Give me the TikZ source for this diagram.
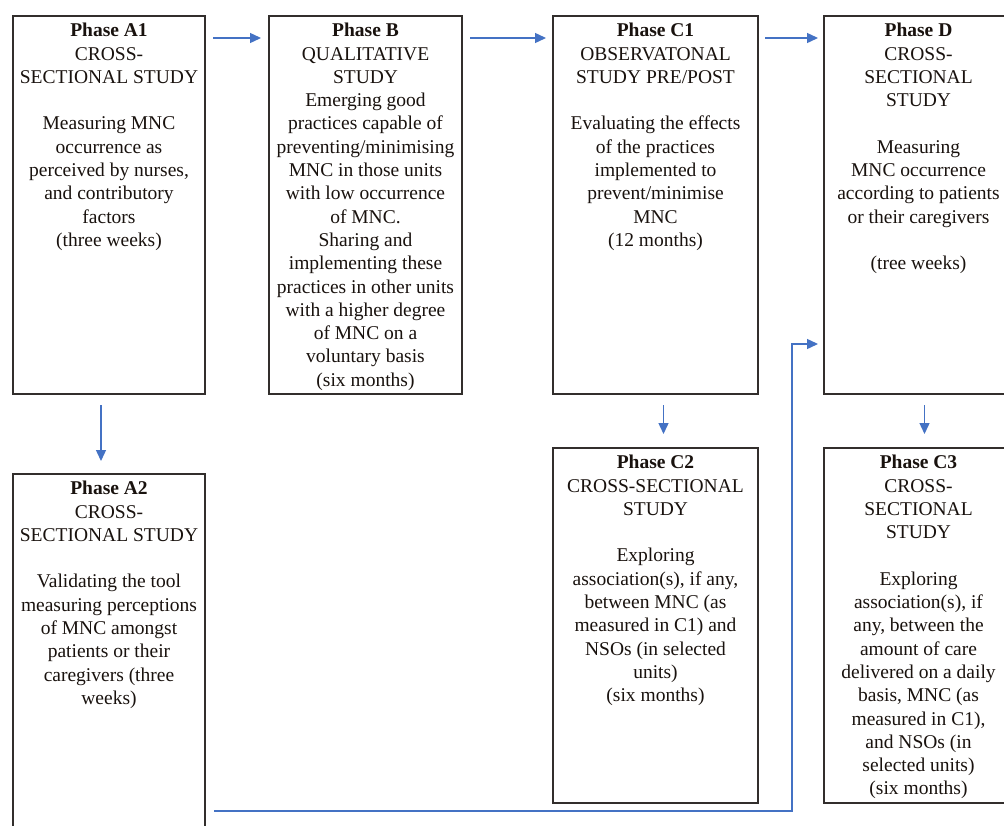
\documentclass[tikz,border=0pt]{standalone}
\usepackage{fontspec}
\setmainfont{Liberation Serif}
\usetikzlibrary{arrows.meta}
\definecolor{arrblue}{RGB}{68,114,196}
\definecolor{boxline}{RGB}{50,46,44}
\definecolor{txtcol}{RGB}{25,18,14}
\tikzset{
  phasebox/.style={draw=boxline, line width=2pt, fill=none, inner sep=0pt, anchor=north west},
  phasetext/.style={anchor=north, align=center, inner sep=0pt, text=txtcol,
    font=\fontsize{19.5}{23.3}\selectfont},
  flowarrow/.style={draw=arrblue, line width=1.4pt, -{Triangle[length=11pt,width=10pt]}}
}
\begin{document}
\begin{tikzpicture}[x=1pt,y=-1pt]
\clip (0,0) rectangle (1004,825);
\fill[white] (0,0) rectangle (1004,825);

% boxes
\node[phasebox, minimum width=192pt, minimum height=378pt] (A1) at (12,15) {};
\node[phasebox, minimum width=193pt, minimum height=378pt] (B)  at (268,15) {};
\node[phasebox, minimum width=205pt, minimum height=378pt] (C1) at (552,15) {};
\node[phasebox, minimum width=189pt, minimum height=378pt] (D)  at (823,15) {};
\node[phasebox, minimum width=192pt, minimum height=380pt] (A2) at (12,473) {};
\node[phasebox, minimum width=205pt, minimum height=355pt] (C2) at (552,447) {};
\node[phasebox, minimum width=189pt, minimum height=355pt] (C3) at (823,447) {};

% texts
\node[phasetext] (A1t) at ([yshift=-8pt]A1.north) {\textbf{Phase A1}\\CROSS-\\SECTIONAL STUDY\\[23.3pt]Measuring MNC\\occurrence as\\perceived by nurses,\\and contributory\\factors\\(three weeks)};
\node[phasetext] (Bt) at ([yshift=-8pt]B.north) {\textbf{Phase B}\\QUALITATIVE\\STUDY\\Emerging good\\practices capable of\\preventing/minimising\\MNC in those units\\with low occurrence\\of MNC.\\Sharing and\\implementing these\\practices in other units\\with a higher degree\\of MNC on a\\voluntary basis\\(six months)};
\node[phasetext] (C1t) at ([yshift=-8pt]C1.north) {\textbf{Phase C1}\\OBSERVATONAL\\STUDY PRE/POST\\[23.3pt]Evaluating the effects\\of the practices\\implemented to\\prevent/minimise\\MNC\\(12 months)};
\node[phasetext] (Dt) at ([yshift=-8pt]D.north) {\textbf{Phase D}\\CROSS-\\SECTIONAL\\STUDY\\[23.3pt]Measuring\\MNC occurrence\\according to patients\\or their caregivers\\[23.3pt](tree weeks)};
\node[phasetext] (A2t) at ([yshift=-8pt]A2.north) {\textbf{Phase A2}\\CROSS-\\SECTIONAL STUDY\\[23.3pt]Validating the tool\\measuring perceptions\\of MNC amongst\\patients or their\\caregivers (three\\weeks)};
\node[phasetext] (C2t) at ([yshift=-8pt]C2.north) {\textbf{Phase C2}\\CROSS-SECTIONAL\\STUDY\\[23.3pt]Exploring\\association(s), if any,\\between MNC (as\\measured in C1) and\\NSOs (in selected\\units)\\(six months)};
\node[phasetext] (C3t) at ([yshift=-8pt]C3.north) {\textbf{Phase C3}\\CROSS-\\SECTIONAL\\STUDY\\[23.3pt]Exploring\\association(s), if\\any, between the\\amount of care\\delivered on a daily\\basis, MNC (as\\measured in C1),\\and NSOs (in\\selected units)\\(six months)};

% horizontal arrows
\draw[flowarrow, shorten <=7pt, shorten >=7pt] ([yshift=-23pt]A1.north east) -- ([yshift=-23pt]B.north west);
\draw[flowarrow, shorten <=7pt, shorten >=6pt] ([yshift=-23pt]B.north east) -- ([yshift=-23pt]C1.north west);
\draw[flowarrow, shorten <=6pt, shorten >=5pt] ([yshift=-23pt]C1.north east) -- ([yshift=-23pt]D.north west);

% vertical arrows
\draw[flowarrow, shorten <=10pt, shorten >=12pt] ([xshift=-8pt]A1.south) -- ([xshift=-8pt]A1.south |- A2.north);
\draw[flowarrow, shorten <=10pt, shorten >=13pt] ([xshift=8pt]C1.south) -- ([xshift=8pt]C1.south |- C2.north);
\draw[flowarrow, shorten <=10pt, shorten >=13pt] ([xshift=6pt]D.south) -- ([xshift=6pt]D.south |- C3.north);

% A2 to D
\coordinate (turn) at (792,811);
\draw[flowarrow, shorten <=8pt, shorten >=5pt] (A2.east |- turn) -- (turn) |- ([yshift=-329pt]D.north west);
\end{tikzpicture}
\end{document}
